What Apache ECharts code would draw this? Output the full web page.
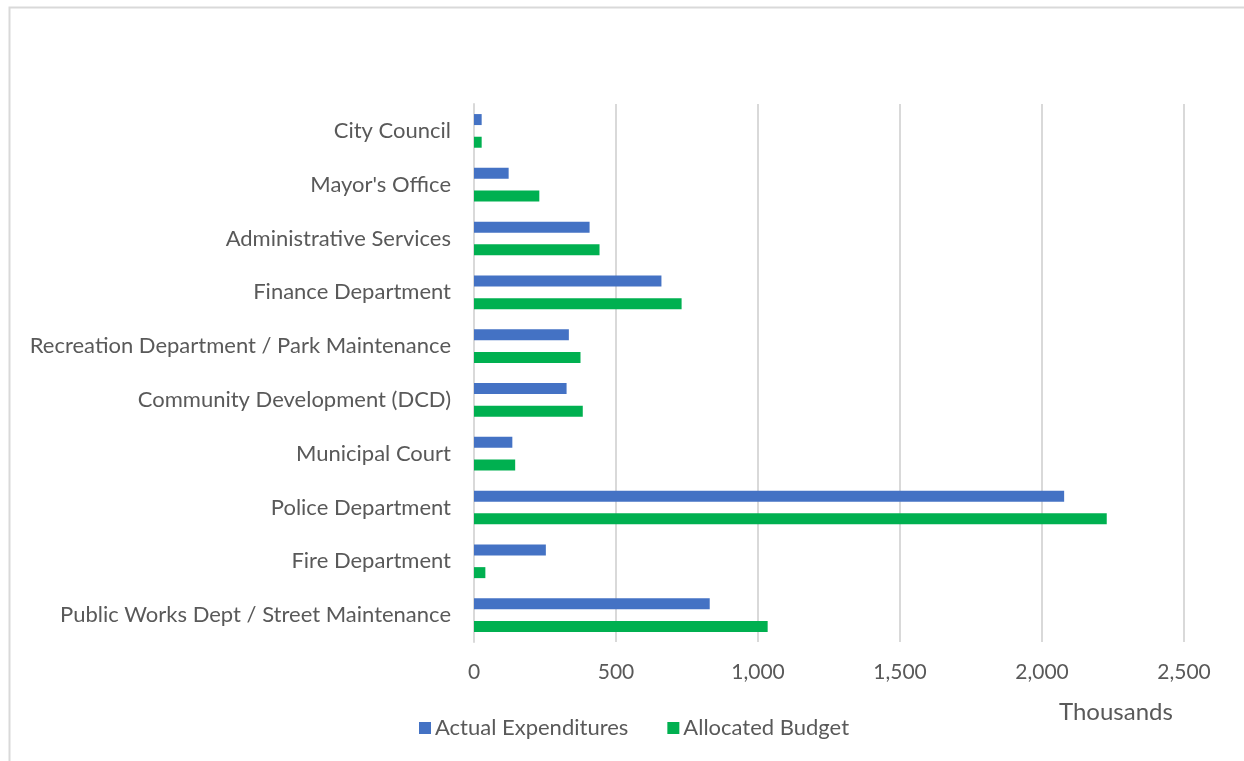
<!DOCTYPE html>
<html><head><meta charset="utf-8">
<script src="https://cdn.jsdelivr.net/npm/echarts@6/dist/echarts.min.js"></script>
<style>html,body{margin:0;padding:0;background:#fff}#c{width:1244px;height:761px}</style>
</head><body><div id="c"></div>
<script>
const categories = ["City Council","Mayor's Office","Administrative Services","Finance Department","Recreation Department / Park Maintenance","Community Development (DCD)","Municipal Court","Police Department","Fire Department","Public Works Dept / Street Maintenance"];
const actualExpenditures = [27, 122, 407, 660, 334, 326, 135, 2078, 253, 830];
const allocatedBudget = [27, 230, 442, 731, 375, 383, 145, 2228, 40, 1034];
const seriesNames = ["Actual Expenditures", "Allocated Budget"];
const axisUnit = "Thousands";

const FONT = "Lato";
const TXT = "#595959";
const chart = echarts.init(document.getElementById('c'), null, {renderer:'canvas'});
chart.setOption({
  animation:false,
  backgroundColor:'#fff',
  textStyle:{fontFamily:FONT},
  grid:{left:474, right:60, top:104, bottom:119, containLabel:false},
  xAxis:{type:'value', min:0, max:2500, interval:500,
    axisLine:{show:false}, axisTick:{show:false},
    splitLine:{lineStyle:{color:'#d9d9d9', width:2}},
    axisLabel:{color:TXT, fontSize:21, fontFamily:FONT, margin:20,
      formatter:v=>v.toLocaleString('en-US')}},
  yAxis:{type:'category', data:categories, inverse:true,
    axisLine:{show:true, lineStyle:{color:'#d9d9d9', width:2}},
    axisTick:{show:false},
    axisLabel:{color:TXT, fontSize:22, fontFamily:FONT, margin:23}},
  legend:{data:seriesNames, left:414, top:712, icon:'rect', itemWidth:12, itemHeight:12,
    itemGap:39, textStyle:{color:TXT, fontSize:22, fontFamily:FONT, padding:[0,0,0,-1]}},
  series:[
    {name:seriesNames[0], type:'bar', data:actualExpenditures, barWidth:11, barGap:'106%',
      itemStyle:{color:'#4472C4'}},
    {name:seriesNames[1], type:'bar', data:allocatedBudget, barWidth:11,
      itemStyle:{color:'#00B050'}}
  ],
  graphic:[
    {type:'rect', left:7, top:5, shape:{width:1300, height:800}, silent:true,
      style:{fill:'none', stroke:'#d9d9d9', lineWidth:2}},
    {type:'text', left:1059, top:700, style:{text:axisUnit, fill:TXT, font:'24px '+FONT}}
  ]
});
</script></body></html>
